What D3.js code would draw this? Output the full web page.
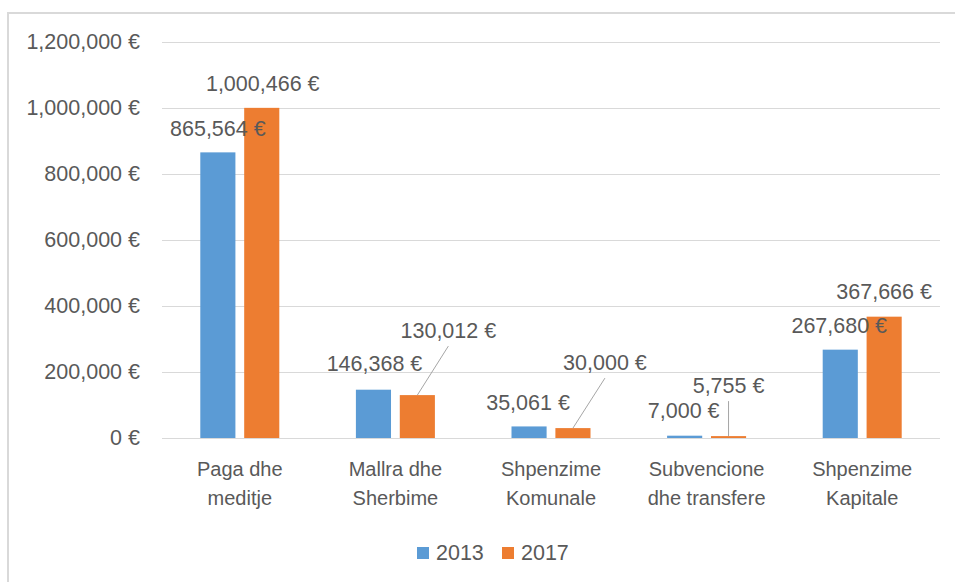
<!DOCTYPE html>
<html>
<head>
<meta charset="utf-8">
<script src="https://cdn.jsdelivr.net/npm/d3@7"></script>
<style>
  body { margin: 0; background: #fff; }
  text { font-family: "Liberation Sans", Arial, sans-serif; fill: #595959; }
</style>
</head>
<body>
<svg id="chart"></svg>
<script>
// Data
const categories = [
    ['Paga dhe', 'meditje'],
    ['Mallra dhe', 'Sherbime'],
    ['Shpenzime', 'Komunale'],
    ['Subvencione', 'dhe transfere'],
    ['Shpenzime', 'Kapitale']
];
const series = ['2013', '2017'];
const values2013 = [865564, 146368, 35061, 7000, 267680];
const values2017 = [1000466, 130012, 30000, 5755, 367666];
const yTicks = [0, 200000, 400000, 600000, 800000, 1000000, 1200000];

// Label placement (dx, dy from bar top centre, leader line or not)
const labelLayout = {
    '2013': [[0, -24, false], [1, -27, false], [-1, -24, false], [-1, -26, false], [-1, -25, false]],
    '2017': [[1, -25, false], [31, -65, true], [32, -66, true], [0, -51, true], [0, -26, false]]
};

const colors = { '2013': '#5B9BD5', '2017': '#ED7D31' };
const width = 955, height = 582;
const numSize = 21.5, catSize = 20;

const svg = d3.select('#chart')
    .attr('width', width)
    .attr('height', height);

// chart border (only top and left visible in frame)
svg.append('rect')
    .attr('x', 8).attr('y', 13)
    .attr('width', 960).attr('height', 600)
    .attr('fill', 'none')
    .attr('stroke', '#d9d9d9')
    .attr('stroke-width', 2);

const yScale = d3.scaleLinear()
    .domain([0, 1200000])
    .range([438, 42]);

const xScale = d3.scaleBand()
    .domain(d3.range(categories.length))
    .range([162, 940]);

const xSub = d3.scaleBand()
    .domain(series)
    .range([38.3, 117.3])
    .paddingInner(0.2);

const fmt = d => d3.format(',')(d) + ' €';

// Gridlines
svg.append('g')
    .selectAll('line')
    .data(yTicks)
    .join('line')
        .attr('x1', 162).attr('x2', 940)
        .attr('y1', d => Math.round(yScale(d)) + 0.5)
        .attr('y2', d => Math.round(yScale(d)) + 0.5)
        .attr('stroke', '#d9d9d9')
        .attr('stroke-width', 1);

// Y axis labels
const yAxis = d3.axisLeft(yScale)
    .tickValues(yTicks)
    .tickFormat(fmt)
    .tickSize(0)
    .tickPadding(0);

const yAxisG = svg.append('g')
    .attr('transform', 'translate(140,0)')
    .call(yAxis);
yAxisG.select('.domain').remove();
yAxisG.selectAll('text')
    .attr('font-size', numSize)
    .attr('fill', '#595959')
    .attr('font-family', '"Liberation Sans", Arial, sans-serif');

// Bars
const rows = categories.map((c, i) => ({ i: i, '2013': values2013[i], '2017': values2017[i] }));

const groups = svg.append('g')
    .selectAll('g')
    .data(rows)
    .join('g')
        .attr('transform', d => `translate(${xScale(d.i)},0)`);

groups.selectAll('rect')
    .data(d => series.map(s => ({ s: s, v: d[s], i: d.i })))
    .join('rect')
        .attr('x', d => xSub(d.s))
        .attr('y', d => yScale(d.v))
        .attr('width', xSub.bandwidth())
        .attr('height', d => yScale(0) - yScale(d.v))
        .attr('fill', d => colors[d.s]);

// Data labels
const labels = [];
rows.forEach(r => {
    series.forEach(s => {
        const lay = labelLayout[s][r.i];
        const cx = xScale(r.i) + xSub(s) + xSub.bandwidth() / 2;
        const top = yScale(r[s]);
        labels.push({ v: r[s], cx: cx, top: top, lx: cx + lay[0], ly: top + lay[1], leader: lay[2] });
    });
});

svg.append('g')
    .selectAll('line')
    .data(labels.filter(d => d.leader))
    .join('line')
        .attr('x1', d => d.lx)
        .attr('y1', d => d.ly + 16)
        .attr('x2', d => d.cx)
        .attr('y2', d => d.top)
        .attr('stroke', '#a6a6a6')
        .attr('stroke-width', 1);

svg.append('g')
    .selectAll('text')
    .data(labels)
    .join('text')
        .attr('x', d => d.lx)
        .attr('y', d => d.ly + 8)
        .attr('text-anchor', 'middle')
        .attr('font-size', numSize)
        .text(d => fmt(d.v));

// Category labels
const catG = svg.append('g')
    .selectAll('text')
    .data(categories)
    .join('text')
        .attr('text-anchor', 'middle')
        .attr('font-size', catSize)
        .attr('x', (d, i) => xScale(i) + xScale.bandwidth() / 2)
        .attr('y', 476);

catG.selectAll('tspan')
    .data(d => d)
    .join('tspan')
        .attr('x', function() { return d3.select(this.parentNode).attr('x'); })
        .attr('dy', (d, i) => i === 0 ? 0 : 29)
        .text(d => d);

// Legend
const legend = svg.append('g')
    .selectAll('g')
    .data(series)
    .join('g')
        .attr('transform', (d, i) => `translate(${417 + i * 85},547)`);

legend.append('rect')
    .attr('width', 12).attr('height', 12)
    .attr('fill', d => colors[d]);

legend.append('text')
    .attr('x', 19).attr('y', 13)
    .attr('font-size', numSize)
    .text(d => d);
</script>
</body>
</html>
